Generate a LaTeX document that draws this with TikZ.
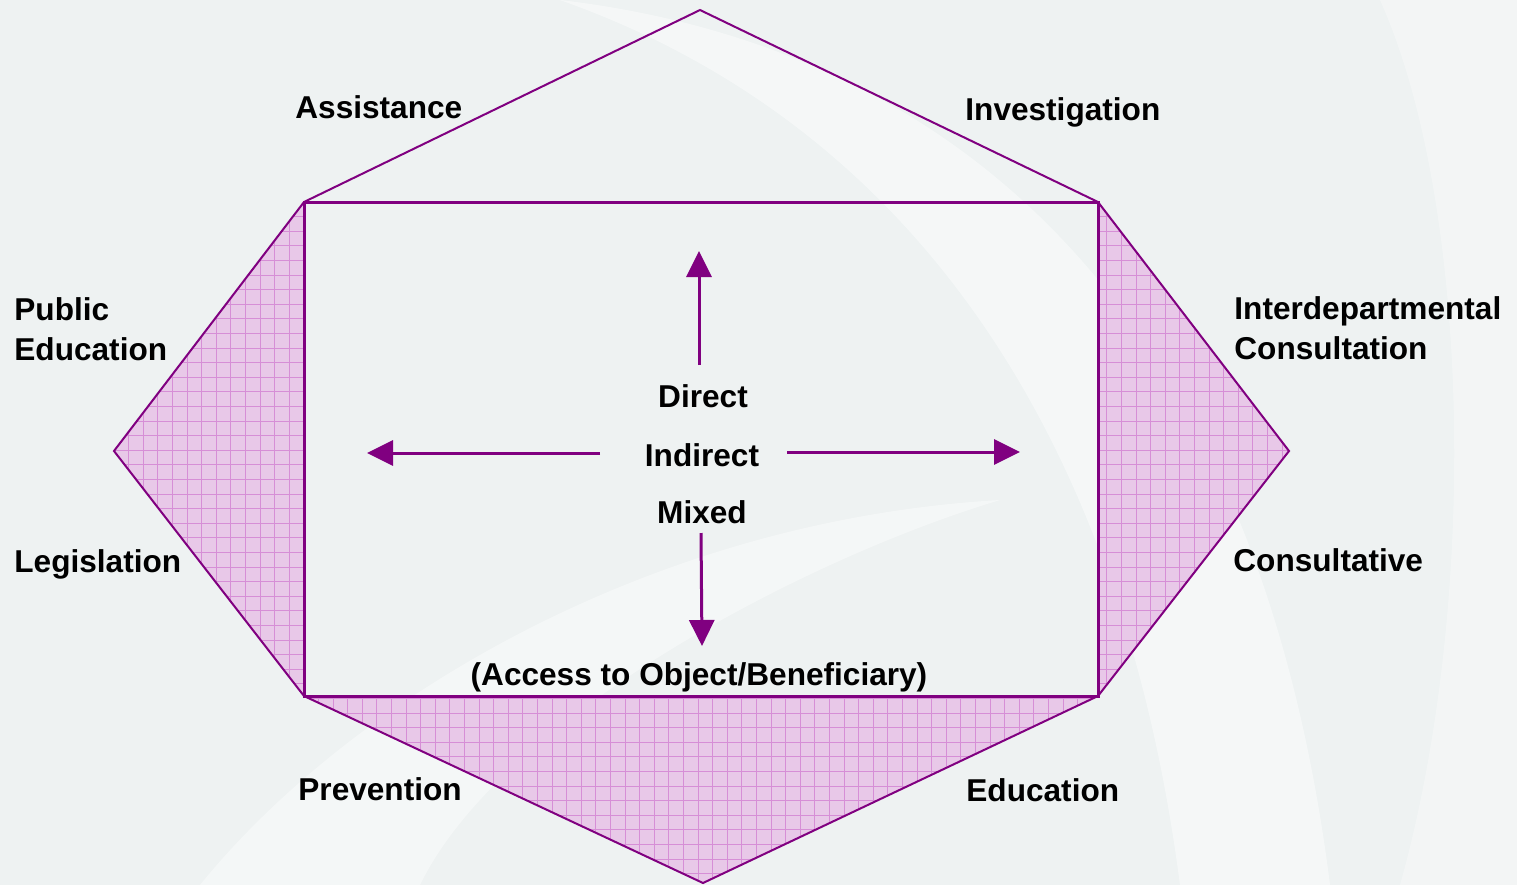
\documentclass[tikz,border=0pt]{standalone}
\usepackage{fontspec}
\setmainfont{Liberation Sans}
\usetikzlibrary{arrows.meta}
\definecolor{bgc}{HTML}{EEF2F2}
\definecolor{pur}{HTML}{800080}
\definecolor{pinkfill}{HTML}{E8C8E8}
\definecolor{gridc}{HTML}{D68ED6}
\tikzset{
  lbl/.style={font=\fontsize{15.8}{20}\selectfont\bfseries, text=black, inner sep=0pt, align=left},
  clbl/.style={font=\fontsize{15.8}{20}\selectfont\bfseries, text=black, inner sep=0pt},
  outline/.style={draw=pur, line width=1pt, line join=miter},
  boxline/.style={draw=pur, line width=1.5pt},
  arr/.style={draw=pur, line width=1.5pt, -{Triangle[length=13pt,width=12.5pt]}, pur}
}
\begin{document}
\begin{tikzpicture}[x=0.5pt,y=-0.5pt]
\useasboundingbox (0,0) rectangle (1517,885);
\fill[bgc] (0,0) rectangle (1517,885);
% subtle background swooshes
\fill[white, opacity=0.45] (560,0) .. controls (900,40) and (1250,250) .. (1330,885) -- (1180,885) .. controls (1120,420) and (900,120) .. (560,0) -- cycle;
\fill[white, opacity=0.4] (200,885) .. controls (350,700) and (650,520) .. (1000,500) .. controls (800,560) and (500,720) .. (420,885) -- cycle;
\fill[white, opacity=0.3] (1380,0) .. controls (1470,200) and (1480,600) .. (1400,885) -- (1517,885) -- (1517,0) -- cycle;

% vertices
\coordinate (T) at (700,10);
\coordinate (TL) at (304,202);
\coordinate (TR) at (1098,202);
\coordinate (BL) at (304,696);
\coordinate (BR) at (1098,696);
\coordinate (L) at (114,451);
\coordinate (R) at (1289,451);
\coordinate (B) at (703,883);

% shaded triangles
\fill[pinkfill] (TL) -- (L) -- (BL) -- cycle;
\fill[pinkfill] (TR) -- (R) -- (BR) -- cycle;
\fill[pinkfill] (BL) -- (B) -- (BR) -- cycle;
\begin{scope}
\clip (TL) -- (L) -- (BL) -- cycle (TR) -- (R) -- (BR) -- cycle (BL) -- (B) -- (BR) -- cycle;
\foreach \gx in {114,128.6,...,1300} {\draw[gridc, line width=0.35pt] (\gx,200) -- (\gx,885);}
\foreach \gy in {202,216.6,...,890} {\draw[gridc, line width=0.35pt] (110,\gy) -- (1292,\gy);}
\end{scope}

% outlines
\draw[outline] (TL) -- (T) -- (TR);
\draw[outline] (TL) -- (L) -- (BL) -- (B) -- (BR) -- (R) -- (TR);
\draw[boxline] (TL) rectangle (BR);

% center labels
\node[clbl] (direct) at (703,396) {Direct};
\node[clbl] (indirect) at (702,455) {Indirect};
\node[clbl] (mixed) at (702,512) {Mixed};
\node[clbl] (access) at (699,677) {(Access to Object/Beneficiary)};

% arrows
\coordinate (upS) at (699,365);
\coordinate (upE) at (699,251);
\coordinate (lS) at (600,453);
\coordinate (lE) at (367,453);
\coordinate (rS) at (787,452);
\coordinate (rE) at (1020,452);
\coordinate (dS) at (701,533);
\coordinate (dE) at (702,646);
\draw[arr] (upS) -- (upE);
\draw[arr] (lS) -- (lE);
\draw[arr] (rS) -- (rE);
\draw[arr] (dS) -- (dE);

% outer labels
\node[lbl, anchor=west] (assist) at (295,107) {Assistance};
\node[lbl, anchor=west] (invest) at (965,112) {Investigation};
\node[lbl, anchor=west] (pubed) at (14,329) {Public\\Education};
\node[lbl, anchor=west] (interd) at (1234,328) {Interdepartmental\\Consultation};
\node[lbl, anchor=west] (legis) at (14,564) {Legislation};
\node[lbl, anchor=west] (consult) at (1233,560) {Consultative};
\node[lbl, anchor=west] (prev) at (298,789) {Prevention};
\node[lbl, anchor=west] (educ) at (966,790) {Education};
\end{tikzpicture}
\end{document}
